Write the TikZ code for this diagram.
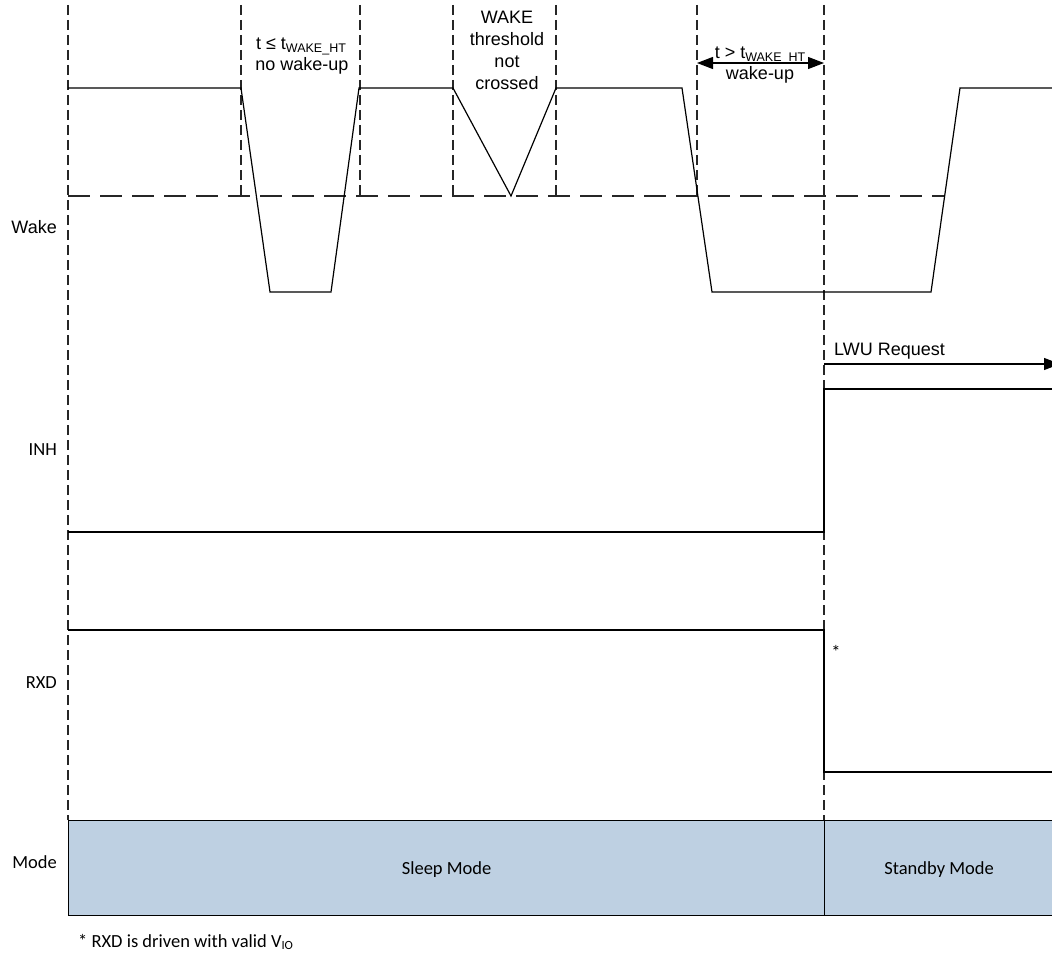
\documentclass[tikz,border=0pt]{standalone}
\usepackage{fontspec}
\setmainfont{Liberation Sans}
\newfontfamily\calfont{Carlito}
\usetikzlibrary{arrows.meta}
\newcommand\subtxt[1]{\raisebox{-0.3ex}{\fontsize{12.5}{13}\selectfont #1}}
\begin{document}
\begin{tikzpicture}[x=1pt,y=-1pt,
  wave/.style={line width=1.2pt, black, line join=miter},
  vdash/.style={line width=1.1pt, black!85, dash pattern=on 10pt off 5pt},
  hdash/.style={line width=1.1pt, black!85, dash pattern=on 22pt off 10pt},
  albl/.style={font=\fontsize{18}{21.6}\selectfont, inner sep=0pt},
  clbl/.style={font=\calfont\fontsize{18.5}{22}\selectfont, inner sep=0pt},
  modebox/.style={draw=black, line width=1.2pt, fill=modefill, inner sep=0pt,
    minimum height=95pt, text depth=0pt, font=\calfont\fontsize{18.5}{22}\selectfont},
  arr/.style={line width=1.2pt, black, -{Triangle[length=16pt,width=12pt]}},
  darr/.style={line width=1.2pt, black, {Triangle[length=16pt,width=12pt]}-{Triangle[length=16pt,width=12pt]}}
]
\definecolor{modefill}{RGB}{190,208,226}
\useasboundingbox (0,0) rectangle (1052,955);

% mode boxes
\node[modebox, minimum width=756pt, anchor=north west] (sleep) at (68,820) {Sleep Mode};
\node[modebox, minimum width=229pt, anchor=north west] (standby) at (824,820) {Standby Mode};

% vertical dashed guides
\coordinate (v0t) at (68,5);   \coordinate (v0b) at (68,820);
\coordinate (v1t) at (241,5);  \coordinate (v1b) at (241,196);
\coordinate (v2t) at (360,5);  \coordinate (v2b) at (360,196);
\coordinate (v3t) at (453,5);  \coordinate (v3b) at (453,196);
\coordinate (v4t) at (556,5);  \coordinate (v4b) at (556,196);
\coordinate (v5t) at (697,5);  \coordinate (v5b) at (697,196);
\coordinate (v6t) at (824,5);  \coordinate (v6b) at (824,820);
\foreach \i in {0,...,6} { \draw[vdash] (v\i t) -- (v\i b); }

% threshold
\coordinate (th0) at (68,196); \coordinate (th1) at (944,196);
\draw[hdash] (th0) -- (th1);

% Wake waveform
\coordinate (w0) at (68,88);   \coordinate (w1) at (241,88);
\coordinate (w2) at (270,292); \coordinate (w3) at (331,292);
\coordinate (w4) at (359,88);  \coordinate (w5) at (453,88);
\coordinate (w6) at (511,196); \coordinate (w7) at (556,88);
\coordinate (w8) at (682,88);  \coordinate (w9) at (712,292);
\coordinate (w10) at (931,292);\coordinate (w11) at (960,88);
\coordinate (w12) at (1054,88);
\draw[wave] (w0) -- (w1) -- (w2) -- (w3) -- (w4) -- (w5) -- (w6) -- (w7) -- (w8) -- (w9) -- (w10) -- (w11) -- (w12);

% INH
\coordinate (i0) at (68,532);  \coordinate (i1) at (824,532);
\coordinate (i2) at (824,389); \coordinate (i3) at (1054,389);
\draw[wave] (i0) -- (i1) -- (i2) -- (i3);

% RXD
\coordinate (r0) at (68,630);  \coordinate (r1) at (824,630);
\coordinate (r2) at (824,772); \coordinate (r3) at (1054,772);
\draw[wave] (r0) -- (r1) -- (r2) -- (r3);

% LWU request arrow
\coordinate (l0) at (824,364); \coordinate (l1) at (1060,364);
\draw[arr] (l0) -- (l1);
\node[albl, anchor=base west] (lwu) at (834,355) {LWU Request};

% wake-up double arrow
\coordinate (d0) at (697,63); \coordinate (d1) at (824,63);
\draw[darr] (d0) -- (d1);
\node[albl, anchor=base] (tgt) at (760,59) {t > t\subtxt{WAKE\_HT}};
\node[albl, anchor=base] (wku) at (760,80) {wake-up};

% no wake-up label
\node[albl, anchor=base] (tle) at (301,50) {t ≤ t\subtxt{WAKE\_HT}};
\node[albl, anchor=base] (nwu) at (302,71) {no wake-up};

% threshold not crossed label
\node[albl, anchor=base] (nc1) at (507,24) {WAKE};
\node[albl, anchor=base] (nc2) at (507,46) {threshold};
\node[albl, anchor=base] (nc3) at (507,68) {not};
\node[albl, anchor=base] (nc4) at (507,90) {crossed};

% signal labels
\node[albl, anchor=base east] (lwake) at (57,233) {Wake};
\node[clbl, anchor=base east] (linh) at (57,455) {INH};
\node[clbl, anchor=base east] (lrxd) at (57,688) {RXD};
\node[clbl, anchor=base east] (lmode) at (57,868) {Mode};

% asterisk and footnote
\node[clbl, anchor=center] (ast) at (836,652) {*};
\node[clbl, anchor=base west] (fn) at (78,947) {* RXD is driven with valid V\subtxt{\calfont IO}};
\end{tikzpicture}
\end{document}
